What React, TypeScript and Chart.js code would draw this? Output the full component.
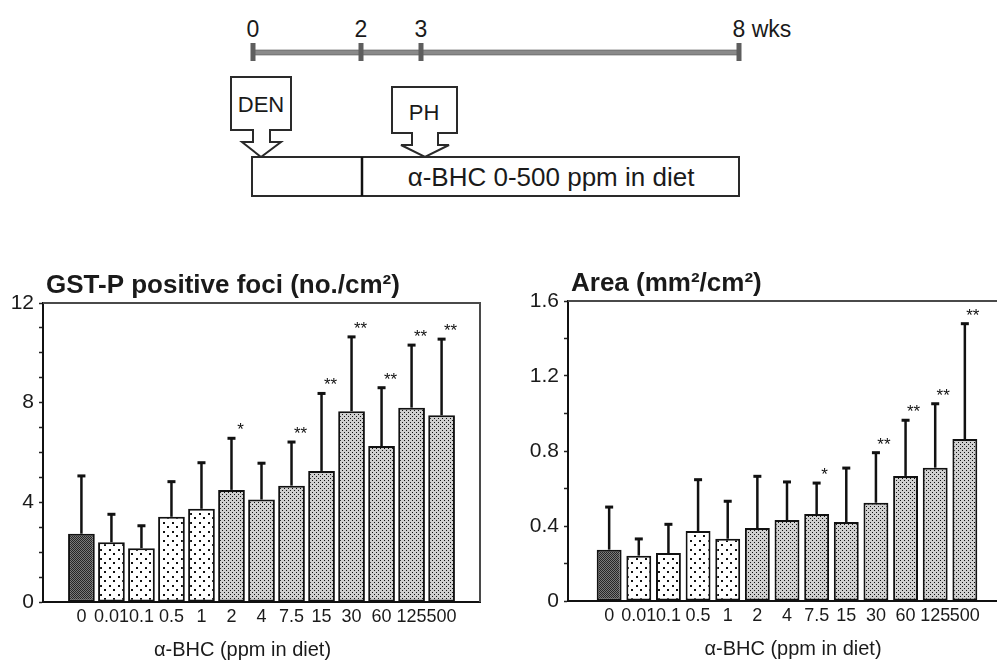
import React, { useEffect, useRef } from "react";
import { Chart, registerables } from "chart.js";
Chart.register(...registerables);

// ---- data ----
const doses = ["0", "0.01", "0.1", "0.5", "1", "2", "4", "7.5", "15", "30", "60", "125", "500"];
const fociMean = [2.74, 2.4, 2.16, 3.42, 3.74, 4.5, 4.11, 4.67, 5.26, 7.66, 6.26, 7.8, 7.49];
const fociUpper = [5.06, 3.52, 3.06, 4.83, 5.59, 6.57, 5.57, 6.42, 8.37, 10.64, 8.6, 10.31, 10.55];
const fociSig = ["", "", "", "", "", "*", "", "**", "**", "**", "**", "**", "**"];
const areaMean = [0.274, 0.242, 0.256, 0.373, 0.332, 0.389, 0.432, 0.464, 0.421, 0.524, 0.667, 0.711, 0.864];
const areaUpper = [0.501, 0.331, 0.409, 0.647, 0.532, 0.665, 0.635, 0.629, 0.709, 0.791, 0.964, 1.052, 1.479];
const areaSig = ["", "", "", "", "", "", "", "*", "", "**", "**", "**", "**"];
const timelineWeeks = ["0", "2", "3", "8 wks"];
const fociTitle = "GST-P positive foci (no./cm²)";
const areaTitle = "Area (mm²/cm²)";
const xTitle = "α-BHC (ppm in diet)";
const dietText = "α-BHC 0-500 ppm in diet";

const FONT = "'Liberation Sans', Arial, Helvetica, sans-serif";

function makePattern(kind: string): CanvasPattern | string {
  const c = document.createElement("canvas");
  const ctx = c.getContext("2d");
  if (!ctx) return "#999";
  if (kind === "dark") {
    c.width = 2; c.height = 2;
    ctx.fillStyle = "#7a7a7a"; ctx.fillRect(0, 0, 2, 2);
    ctx.fillStyle = "#262626"; ctx.fillRect(0, 0, 1, 1); ctx.fillRect(1, 1, 1, 1);
  } else if (kind === "coarse") {
    c.width = 9; c.height = 9;
    ctx.fillStyle = "#ffffff"; ctx.fillRect(0, 0, 9, 9);
    ctx.fillStyle = "#111"; ctx.fillRect(1, 1, 2, 2); ctx.fillRect(5, 5, 2, 2);
  } else {
    c.width = 4; c.height = 4;
    ctx.fillStyle = "#cfcfcf"; ctx.fillRect(0, 0, 4, 4);
    ctx.fillStyle = "#111"; ctx.fillRect(0, 0, 1, 1); ctx.fillRect(2, 2, 1, 1);
  }
  const p = ctx.createPattern(c, "repeat");
  return p || "#999";
}

type Cfg = {
  mean: number[]; upper: number[]; sig: string[]; title: string;
  yMax: number; yStep: number; yLabelEvery: number; xPad: number; barPct: number;
  yAxisW: number; xAxisH: number; padTop: number; padRight: number;
  xTitleShift: number; starDx: number; decimals: number;
};

function BarPanel({ cfg, left, top, width, height }: { cfg: Cfg; left: number; top: number; width: number; height: number }) {
  const ref = useRef<HTMLCanvasElement>(null);
  useEffect(() => {
    if (!ref.current) return;
    const bg = cfg.mean.map((_, i) => makePattern(i === 0 ? "dark" : i <= 4 ? "coarse" : "fine"));
    const annot = {
      id: "annot",
      afterDatasetsDraw(chart: any) {
        const { ctx, chartArea: a, scales } = chart;
        const xs = scales.x, ys = scales.y;
        ctx.save();
        // frame top & right
        ctx.strokeStyle = "#4a4a4a"; ctx.lineWidth = 2;
        ctx.beginPath();
        ctx.moveTo(a.left, a.top); ctx.lineTo(a.right, a.top); ctx.lineTo(a.right, a.bottom);
        ctx.stroke();
        // error bars
        ctx.strokeStyle = "#111"; ctx.fillStyle = "#111"; ctx.lineWidth = 2.5;
        cfg.mean.forEach((m, i) => {
          const x = xs.getPixelForValue(i);
          const y0 = ys.getPixelForValue(m);
          const y1 = ys.getPixelForValue(cfg.upper[i]);
          ctx.beginPath(); ctx.moveTo(x, y0); ctx.lineTo(x, y1); ctx.stroke();
          ctx.fillRect(x - 4, y1 - 1.5, 8, 3);
          if (cfg.sig[i]) {
            ctx.font = `17px ${FONT}`;
            ctx.textAlign = "center"; ctx.textBaseline = "alphabetic";
            ctx.fillText(cfg.sig[i], x + cfg.starDx, y1 - 13 + 10);
          }
        });
        // panel title
        ctx.fillStyle = "#1a1a1a";
        ctx.font = `bold 26px ${FONT}`;
        ctx.textAlign = "left"; ctx.textBaseline = "alphabetic";
        ctx.fillText(cfg.title, a.left + 3, a.top - 10);
        // x axis title
        ctx.font = `20px ${FONT}`;
        ctx.textAlign = "center";
        ctx.fillText(xTitle, (a.left + a.right) / 2 + cfg.xTitleShift, a.bottom + 54);
        ctx.restore();
      },
    };
    const chart = new Chart(ref.current, {
      type: "bar",
      data: {
        datasets: [{
          data: cfg.mean.map((v, i) => ({ x: i, y: v })),
          backgroundColor: bg as any,
          borderColor: "#111",
          borderWidth: 2,
          borderSkipped: false,
          barPercentage: cfg.barPct,
          categoryPercentage: 1,
        }],
      },
      options: {
        responsive: false,
        animation: false,
        events: [],
        layout: { padding: { top: cfg.padTop, right: cfg.padRight, left: 0, bottom: 0 } },
        plugins: { legend: { display: false }, tooltip: { enabled: false }, title: { display: false } },
        scales: {
          x: {
            type: "linear",
            min: -cfg.xPad, max: doses.length - 1 + cfg.xPad,
            afterBuildTicks: (s: any) => { s.ticks = doses.map((_, i) => ({ value: i })); },
            afterFit: (s: any) => { s.height = cfg.xAxisH; },
            ticks: {
              autoSkip: false, maxRotation: 0, minRotation: 0, padding: 4,
              color: "#1a1a1a", font: { family: FONT, size: 18 },
              callback: (v: any) => doses[Math.round(Number(v))] ?? "",
            },
            grid: { display: false, drawTicks: false },
            border: { display: true, color: "#111", width: 2 },
          },
          y: {
            min: 0, max: cfg.yMax,
            afterFit: (s: any) => { s.width = cfg.yAxisW; },
            afterBuildTicks: (s: any) => {
              const n = Math.round(cfg.yMax / cfg.yStep);
              s.ticks = Array.from({ length: n + 1 }, (_, k) => ({ value: k * cfg.yStep }));
            },
            ticks: {
              autoSkip: false, padding: 5, color: "#1a1a1a", font: { family: FONT, size: 21 },
              callback: (v: any) => {
                const k = Math.round(Number(v) / cfg.yStep);
                if (k % cfg.yLabelEvery !== 0) return "";
                return k === 0 ? "0" : (k * cfg.yStep).toFixed(cfg.decimals);
              },
            },
            grid: { display: true, drawOnChartArea: false, drawTicks: true, tickLength: 4, tickColor: "#222", tickWidth: 1.5 },
            border: { display: true, color: "#111", width: 2 },
          },
        },
      },
      plugins: [annot],
    } as any);
    return () => chart.destroy();
  }, [cfg]);
  return (
    <canvas ref={ref} width={width} height={height}
      style={{ position: "absolute", left, top, width, height }} />
  );
}

const fociCfg: Cfg = {
  mean: fociMean, upper: fociUpper, sig: fociSig, title: fociTitle,
  yMax: 12, yStep: 1, yLabelEvery: 4, xPad: 0.72, barPct: 0.89,
  yAxisW: 43, xAxisH: 66, padTop: 43, padRight: 20, xTitleShift: -19, starDx: 9, decimals: 0,
};
const areaCfg: Cfg = {
  mean: areaMean, upper: areaUpper, sig: areaSig, title: areaTitle,
  yMax: 1.6, yStep: 0.2, yLabelEvery: 2, xPad: 0.82, barPct: 0.84,
  yAxisW: 68, xAxisH: 67, padTop: 41, padRight: 14, xTitleShift: 6, starDx: 8, decimals: 1,
};

function Timeline() {
  const stroke = "#2a2a2a";
  const ticksX = [253, 361, 421, 739];
  return (
    <svg width={997} height={220} style={{ position: "absolute", left: 0, top: 0 }}
      fontFamily={FONT}>
      <rect x={253} y={50} width={486} height={5} fill="#8a8a8a" stroke="#555" strokeWidth={0.6} />
      {ticksX.map((x, i) => (
        <rect key={i} x={x - 2.5} y={43} width={5} height={18} fill="#5e5e5e" />
      ))}
      {timelineWeeks.map((t, i) => (
        <text key={t} x={i === 3 ? ticksX[i] - 6.5 : ticksX[i]} y={37} fontSize={23}
          textAnchor={i === 3 ? "start" : "middle"} fill="#1a1a1a">{t}</text>
      ))}
      <path d="M231,77 L291,77 L291,130 L270,130 L270,142 L281,142 L261,157 L242,142 L253,142 L253,130 L231,130 Z"
        fill="#fff" stroke={stroke} strokeWidth={2} />
      <text x={261} y={112} fontSize={22} textAnchor="middle" fill="#1a1a1a">DEN</text>
      <path d="M392,87 L457,87 L457,133 L438,133 L438,145 L449,145 L425,157 L401,145 L412,145 L412,133 L392,133 Z"
        fill="#fff" stroke={stroke} strokeWidth={2} />
      <text x={424} y={120} fontSize={22} textAnchor="middle" fill="#1a1a1a">PH</text>
      <rect x={252} y={157} width={487} height={39} fill="#fff" stroke={stroke} strokeWidth={2} />
      <line x1={362} y1={157} x2={362} y2={196} stroke="#111" strokeWidth={2.5} />
      <text x={551} y={186} fontSize={26} textAnchor="middle" fill="#1a1a1a">{dietText}</text>
    </svg>
  );
}

export default function App() {
  return (
    <div style={{ position: "absolute", left: 0, top: 0, width: 997, height: 668, overflow: "hidden", background: "#fff" }}>
      <Timeline />
      <BarPanel cfg={fociCfg} left={0} top={260} width={500} height={408} />
      <BarPanel cfg={areaCfg} left={500} top={260} width={520} height={408} />
    </div>
  );
}
